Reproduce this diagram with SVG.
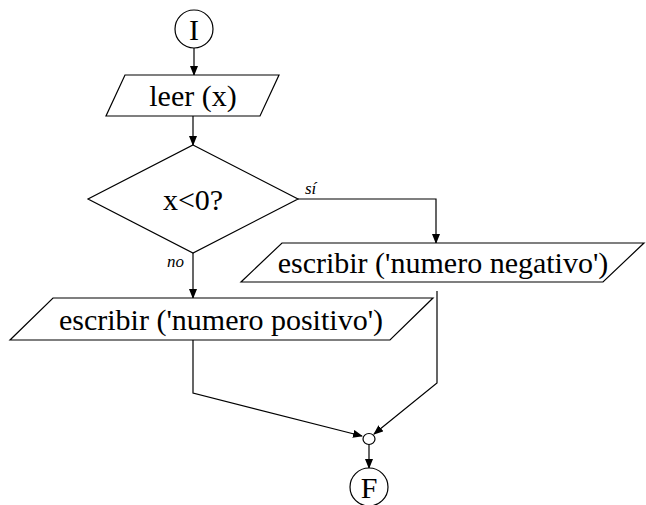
<svg xmlns="http://www.w3.org/2000/svg" width="646" height="505" viewBox="0 0 646 505">
<defs>
<marker id="ah" markerWidth="10" markerHeight="8" refX="9" refY="4" orient="auto" markerUnits="userSpaceOnUse">
<path d="M0,0 L10,4 L0,8 Z" fill="#000"/>
</marker>
<style>
.s{fill:#fff;stroke:#000;stroke-width:1.2}
.c{fill:none;stroke:#000;stroke-width:1.2}
</style>
</defs>
<rect width="646" height="505" fill="#fff"/>
<g id="connectors">
<path class="c" d="M194,48 V75" marker-end="url(#ah)"/>
<path class="c" d="M193,116 V145" marker-end="url(#ah)"/>
<path class="c" d="M298,199 H436 V243" marker-end="url(#ah)"/>
<path class="c" d="M193,253 V298" marker-end="url(#ah)"/>
<path class="c" d="M193,340 V393 L362,436" marker-end="url(#ah)"/>
<path class="c" d="M437,291 V383 L374,434" marker-end="url(#ah)"/>
<path class="c" d="M369,444 V468" marker-end="url(#ah)"/>
<g font-family="'Liberation Serif', 'Times New Roman', 'DejaVu Serif', serif" font-size="17" font-style="italic" fill="#000">
<text x="305" y="194">sí</text>
<text x="167" y="267">no</text>
</g>
</g>
<g font-family="'Liberation Serif', 'Times New Roman', 'DejaVu Serif', serif" font-size="30" fill="#000" text-anchor="middle">
<g id="start">
<circle class="s" cx="194" cy="29" r="19"/>
<text x="194" y="40">I</text>
</g>
<g id="read">
<polygon class="s" points="125,75 279,75 260,116 106,116"/>
<text x="193" y="106">leer (x)</text>
</g>
<g id="decision">
<polygon class="s" points="193,145 298,199 193,253 88,199"/>
<text x="193" y="210">x&lt;0?</text>
</g>
<g id="write_neg">
<polygon class="s" points="282,243 644,243 603,282 241,282"/>
<text x="443" y="273">escribir ('numero negativo')</text>
</g>
<g id="write_pos">
<polygon class="s" points="53,298 433,298 390,340 10,340"/>
<text x="221" y="330">escribir ('numero positivo')</text>
</g>
<g id="junction">
<ellipse class="s" cx="369" cy="439" rx="6" ry="5.5"/>
</g>
<g id="end">
<circle class="s" cx="369" cy="487" r="19"/>
<text x="369" y="498">F</text>
</g>
</g>
</svg>
